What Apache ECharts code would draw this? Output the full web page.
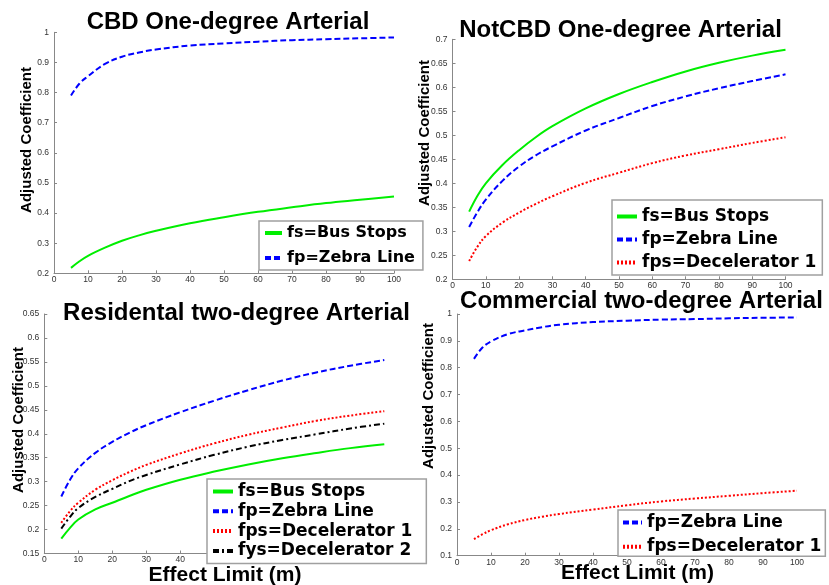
<!DOCTYPE html>
<html>
<head>
<meta charset="utf-8">
<script src="https://cdn.jsdelivr.net/npm/echarts@6/dist/echarts.min.js"></script>
<style>html,body{margin:0;padding:0;background:#fff}#c{width:829px;height:585px}</style>
</head>
<body>
<div id="c"></div>
<script>
// Effect limit (m) sample positions
const xs = [5, 7.5, 10, 15, 20, 25, 30, 40, 50, 60, 70, 80, 90, 100];
const xTicks = [0, 10, 20, 30, 40, 50, 60, 70, 80, 90, 100];

// Panel 1: CBD One-degree Arterial
const cbdBus   = [0.218, 0.240, 0.258, 0.285, 0.308, 0.326, 0.341, 0.366, 0.386, 0.404, 0.419, 0.433, 0.444, 0.455];
const cbdZebra = [0.790, 0.830, 0.854, 0.895, 0.919, 0.933, 0.943, 0.956, 0.963, 0.969, 0.974, 0.977, 0.980, 0.983];

// Panel 2: NotCBD One-degree Arterial
const notBus   = [0.341, 0.374, 0.400, 0.438, 0.469, 0.496, 0.519, 0.556, 0.586, 0.611, 0.633, 0.651, 0.666, 0.678];
const notZebra = [0.309, 0.340, 0.366, 0.405, 0.435, 0.458, 0.477, 0.510, 0.536, 0.561, 0.581, 0.598, 0.613, 0.627];
const notDec1  = [0.238, 0.268, 0.290, 0.318, 0.339, 0.357, 0.373, 0.401, 0.422, 0.442, 0.458, 0.471, 0.484, 0.496];

// Panel 3: Residental two-degree Arterial
const resBus   = [0.181, 0.203, 0.221, 0.242, 0.256, 0.270, 0.283, 0.304, 0.321, 0.336, 0.349, 0.360, 0.370, 0.378];
const resZebra = [0.269, 0.303, 0.328, 0.360, 0.383, 0.402, 0.418, 0.445, 0.469, 0.491, 0.511, 0.528, 0.542, 0.554];
const resDec1  = [0.214, 0.238, 0.256, 0.283, 0.303, 0.320, 0.335, 0.359, 0.380, 0.398, 0.413, 0.427, 0.438, 0.447];
const resDec2  = [0.202, 0.226, 0.245, 0.268, 0.285, 0.301, 0.314, 0.336, 0.356, 0.373, 0.387, 0.399, 0.411, 0.421];

// Panel 4: Commercial two-degree Arterial
const comZebra = [0.833, 0.875, 0.898, 0.925, 0.939, 0.951, 0.960, 0.970, 0.975, 0.979, 0.981, 0.984, 0.986, 0.987];
const comDec1  = [0.162, 0.180, 0.195, 0.217, 0.233, 0.245, 0.255, 0.272, 0.288, 0.302, 0.313, 0.323, 0.333, 0.342];

const titles = ['CBD One-degree Arterial', 'NotCBD One-degree Arterial', 'Residental two-degree Arterial', 'Commercial two-degree Arterial'];
const yName = 'Adjusted Coefficient';
const xName = 'Effect Limit (m)';
const N_BUS = 'fs=Bus Stops', N_ZEB = 'fp=Zebra Line', N_D1 = 'fps=Decelerator 1', N_D2 = 'fys=Decelerator 2';

const STY = {
  bus:  {color: '#00ee00', type: 'solid'},
  zeb:  {color: '#0000ff', type: [6, 3]},
  d1:   {color: '#ff0000', type: [2, 2]},
  d2:   {color: '#000000', type: [6, 3, 2, 3]}
};

function pts(vals) { return xs.map((x, i) => [x, vals[i]]); }
function mk(name, vals, idx, st) {
  return {
    type: 'line', name: name, xAxisIndex: idx, yAxisIndex: idx,
    data: pts(vals), smooth: 0.4, symbol: 'circle', showSymbol: false,
    color: st.color,
    lineStyle: {color: st.color, width: 2, type: st.type}
  };
}

const grids = [
  {left: 54, top: 32.3, width: 340, height: 241},
  {left: 452.5, top: 39.3, width: 333, height: 240},
  {left: 44.3, top: 314, width: 340, height: 239.5},
  {left: 457, top: 314, width: 340, height: 241.7}
];
const yRanges = [[0.2, 1, 0.1], [0.2, 0.7, 0.05], [0.15, 0.65, 0.05], [0.1, 1, 0.1]];

const axisCol = '#888';
const lblStyle = {fontSize: 8.5, color: '#333', fontFamily: 'Liberation Sans'};

const xAxes = grids.map((g, i) => ({
  type: 'value', gridIndex: i, min: xTicks[0], max: xTicks[xTicks.length - 1], interval: 10,
  axisLine: {show: true, lineStyle: {color: axisCol, width: 1}},
  axisTick: {show: true, inside: true, length: 3, lineStyle: {color: axisCol}},
  axisLabel: Object.assign({margin: 2}, lblStyle),
  splitLine: {show: false}
}));
const yAxes = grids.map((g, i) => ({
  type: 'value', gridIndex: i, min: yRanges[i][0], max: yRanges[i][1], interval: yRanges[i][2],
  axisLine: {show: true, lineStyle: {color: axisCol, width: 1}},
  axisTick: {show: true, inside: true, length: 3, lineStyle: {color: axisCol}},
  axisLabel: Object.assign({margin: 5, formatter: v => String(parseFloat(v.toFixed(2)))}, lblStyle),
  splitLine: {show: false}
}));

const series = [
  mk(N_BUS, cbdBus, 0, STY.bus), mk(N_ZEB, cbdZebra, 0, STY.zeb),
  mk(N_BUS, notBus, 1, STY.bus), mk(N_ZEB, notZebra, 1, STY.zeb), mk(N_D1, notDec1, 1, STY.d1),
  mk(N_BUS, resBus, 2, STY.bus), mk(N_ZEB, resZebra, 2, STY.zeb), mk(N_D1, resDec1, 2, STY.d1), mk(N_D2, resDec2, 2, STY.d2),
  mk(N_ZEB, comZebra, 3, STY.zeb), mk(N_D1, comDec1, 3, STY.d1)
];

const titleStyle = {fontSize: 24, fontWeight: 'bold', fontFamily: 'Liberation Sans', color: '#000'};
const titlePos = [[228, 10], [620.5, 18], [236.5, 301.5], [641.5, 289.7]];
const title = titles.map((t, i) => ({
  text: t, left: titlePos[i][0], top: titlePos[i][1], textAlign: 'center', padding: 0,
  textStyle: titleStyle
}));

function leg(left, top, padding, itemWidth, itemGap, fontSize, lineHeight, data) {
  return {
    orient: 'vertical', left: left, top: top, padding: padding,
    itemWidth: itemWidth, itemHeight: 12, itemGap: itemGap,
    backgroundColor: '#fff', borderColor: '#a0a0a0', borderWidth: 1.5,
    lineStyle: {width: 4},
    itemStyle: {opacity: 0},
    textStyle: {fontSize: fontSize, lineHeight: lineHeight, fontWeight: 'bold', fontFamily: 'DejaVu Sans', color: '#000'},
    selectedMode: false,
    data: data
  };
}
const legend = [
  leg(259, 221, [4, 8, 4, 4], 17, 9, 16, 16, [N_BUS, N_ZEB]),
  leg(612, 200, [8, 6, 4, 3], 20, 6, 17, 17, [N_BUS, N_ZEB, N_D1]),
  leg(207, 479, [4, 14, 4, 4], 20, 2.8, 17, 14, [N_BUS, N_ZEB, N_D1, N_D2]),
  leg(618, 510, [4, 4, 1, 3], 19, 7.3, 17, 16, [N_ZEB, N_D1])
];

const yTitlePos = [[27, 140], [425, 133], [18.5, 420], [428.5, 396]];
const xTitlePos = [[225, 575.5], [637.5, 573]];
const graphic = [];
yTitlePos.forEach(p => graphic.push({
  type: 'text', x: p[0], y: p[1], rotation: Math.PI / 2,
  style: {text: yName, font: 'bold 15px "Liberation Sans"', fill: '#000', textAlign: 'center', textVerticalAlign: 'middle'}
}));
xTitlePos.forEach(p => graphic.push({
  type: 'text', x: p[0], y: p[1],
  style: {text: xName, font: 'bold 21px "Liberation Sans"', fill: '#000', textAlign: 'center', textVerticalAlign: 'middle'}
}));

const chart = echarts.init(document.getElementById('c'), null, {renderer: 'canvas'});
chart.setOption({
  animation: false,
  backgroundColor: '#fff',
  title: title,
  legend: legend,
  grid: grids,
  xAxis: xAxes,
  yAxis: yAxes,
  series: series,
  graphic: graphic
});
</script>
</body>
</html>
